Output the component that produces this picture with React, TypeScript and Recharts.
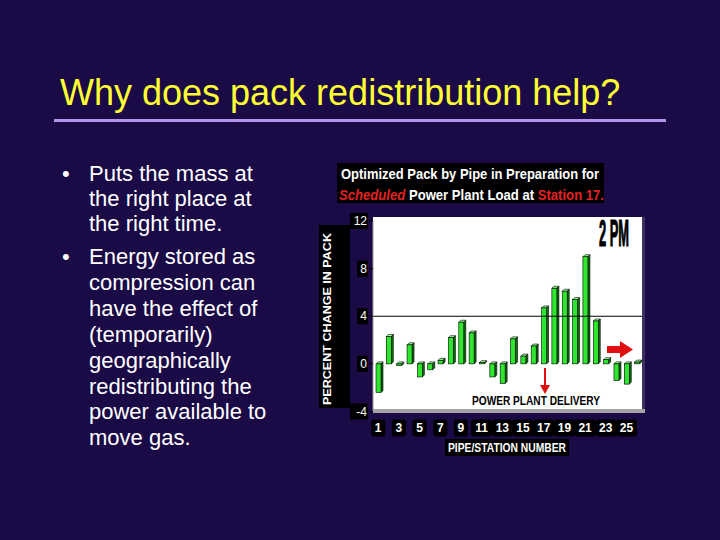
import React from 'react';
import { BarChart, Bar, XAxis, YAxis, ReferenceLine } from 'recharts';

const stations = ['1','2','3','4','5','6','7','8','9','10','11','12','13','14','15','16','17','18','19','20','21','22','23','24','25','26'];
const packChange = [-2.4, 2.3, -0.15, 1.6, -1.1, -0.5, 0.3, 2.2, 3.5, 2.6, 0.1, -1.1, -1.65, 2.1, 0.65, 1.5, 4.7, 6.35, 6.1, 5.4, 9.0, 3.6, 0.35, -1.4, -1.7, 0.15];
const yTicks = [-4, 0, 4, 8, 12];
const titleText = 'Why does pack redistribution help?';
const bulletLines = [
  ['Puts the mass at', 'the right place at', 'the right time.'],
  ['Energy stored as', 'compression can', 'have the effect of', '(temporarily)', 'geographically', 'redistributing the', 'power available to', 'move gas.'],
];

const data = stations.map((s, i) => ({ station: s, value: packChange[i] }));

const FONT = '"Liberation Sans", Arial, sans-serif';
const BG = '#1a0a45';

const Bar3D = (props: any) => {
  const { x, y, width, height } = props;
  if (x == null || y == null) return null;
  const top = height < 0 ? y + height : y;
  const h = Math.max(Math.abs(height), 1);
  const w = width;
  const d = 2;
  return (
    <g>
      <polygon
        points={`${x},${top} ${x + d},${top - d} ${x + w + d},${top - d} ${x + w},${top}`}
        fill="#9cff9c" stroke="#000" strokeWidth={0.6}
      />
      <polygon
        points={`${x + w},${top} ${x + w + d},${top - d} ${x + w + d},${top + h - d} ${x + w},${top + h}`}
        fill="#0b6e0b" stroke="#000" strokeWidth={0.6}
      />
      <rect x={x} y={top} width={w} height={h} fill="#2ee62e" stroke="#000" strokeWidth={0.6} />
    </g>
  );
};

const YTick = (props: any) => {
  const { x, y, payload } = props;
  const label = String(payload.value);
  const bw = label.length * 7 + 4;
  return (
    <g>
      <rect x={x - bw + 1} y={y - 8} width={bw} height={16} fill="#000" />
      <text x={x} y={y + 4} textAnchor="end" fill="#fff" fontSize={12} fontFamily={FONT}>{label}</text>
    </g>
  );
};

const XTick = (props: any) => {
  const { x, y, payload } = props;
  const label = String(payload.value);
  const bw = label.length * 7 + 7;
  return (
    <g>
      <rect x={x - bw / 2} y={y} width={bw} height={17} rx={3} fill="#000" />
      <text x={x} y={y + 12.5} textAnchor="middle" fill="#fff" fontSize={12} fontWeight="bold" fontFamily={FONT}>{label}</text>
    </g>
  );
};

export default function App() {
  return (
    <div style={{ position: 'fixed', left: 0, top: 0, width: 720, height: 540, background: BG, overflow: 'hidden' }}>
      <svg width={720} height={540} style={{ position: 'absolute', left: 0, top: 0 }}>
        <text x={60} y={105} fill="#ffff33" fontSize={36} fontFamily={FONT}>{titleText}</text>
        <rect x={54} y={119} width={612} height={3} fill="#b496ee" />
        {bulletLines[0].map((l, i) => (
          <text key={'a' + i} x={89} y={181 + i * 25} fill="#fff" fontSize={22} fontFamily={FONT}>{l}</text>
        ))}
        <text x={62} y={181} fill="#fff" fontSize={22} fontFamily={FONT}>•</text>
        {bulletLines[1].map((l, i) => (
          <text key={'b' + i} x={89} y={264 + i * 25.9} fill="#fff" fontSize={22} fontFamily={FONT}>{l}</text>
        ))}
        <text x={62} y={264} fill="#fff" fontSize={22} fontFamily={FONT}>•</text>

        <rect x={337} y={163} width={267} height={40} fill="#000" />
        <text x={341} y={179} fill="#fff" fontSize={15} fontWeight="bold" fontFamily={FONT} textLength={258} lengthAdjust="spacingAndGlyphs">Optimized Pack by Pipe in Preparation for</text>
        <text x={339} y={199.5} fill="#fff" fontSize={15} fontWeight="bold" fontFamily={FONT} textLength={265} lengthAdjust="spacingAndGlyphs">
          <tspan fill="#e52222" fontStyle="italic">Scheduled</tspan>
          <tspan> Power Plant Load at </tspan>
          <tspan fill="#e52222">Station 17.</tspan>
        </text>

        <rect x={319} y={225} width={31} height={183} fill="#000" />
        <text transform="translate(331,319) rotate(-90)" textAnchor="middle" fill="#fff" fontSize={11} fontWeight="bold" fontFamily={FONT} textLength={172} lengthAdjust="spacingAndGlyphs">PERCENT CHANGE IN PACK</text>

        <rect x={373} y={217} width={269} height={194} fill="#fff" />
        <rect x={642} y={217} width={3} height={196} fill="#3b3160" />
        <rect x={373} y={409} width={272} height={4} fill="#a4a4a4" />

        <rect x={445} y={439} width={124} height={17} fill="#000" />
        <text x={448} y={452} fill="#fff" fontSize={12.5} fontWeight="bold" fontFamily={FONT} textLength={118} lengthAdjust="spacingAndGlyphs">PIPE/STATION NUMBER</text>
      </svg>

      <div style={{ position: 'absolute', left: 0, top: 0 }}>
        <BarChart width={720} height={540} data={data} margin={{ top: 221, right: 78, bottom: 108.5, left: 343 }} barCategoryGap={0}>
          <XAxis dataKey="station" interval={1} tickLine={false} axisLine={false} height={20} tick={<XTick />} />
          <YAxis domain={[-4, 12]} ticks={yTicks} width={30} tickSize={4} tickMargin={2} tickLine={{ stroke: '#000' }} axisLine={{ stroke: '#999' }} tick={<YTick />} />
          <ReferenceLine y={4} stroke="#000" strokeWidth={1.2} />
          <Bar dataKey="value" barSize={5} shape={<Bar3D />} isAnimationActive={false} />
        </BarChart>
      </div>

      <svg width={720} height={540} style={{ position: 'absolute', left: 0, top: 0, pointerEvents: 'none' }}>
        <text x={599} y={246} fill="#000" stroke="#000" strokeWidth={1.2} fontSize={36} fontWeight="900" fontFamily={FONT} textLength={30} lengthAdjust="spacingAndGlyphs">2 PM</text>
        <text x={472} y={405} fill="#000" fontSize={12} fontWeight="bold" fontFamily={FONT} textLength={128} lengthAdjust="spacingAndGlyphs">POWER PLANT DELIVERY</text>
        <line x1={545} y1={368} x2={545} y2={386} stroke="#e01010" strokeWidth={2} />
        <polygon points="540,385 550,385 545,394" fill="#e01010" />
        <rect x={607} y={346} width={14} height={7} fill="#e01010" />
        <polygon points="620,341 620,358 633,349.5" fill="#e01010" />
      </svg>
    </div>
  );
}
